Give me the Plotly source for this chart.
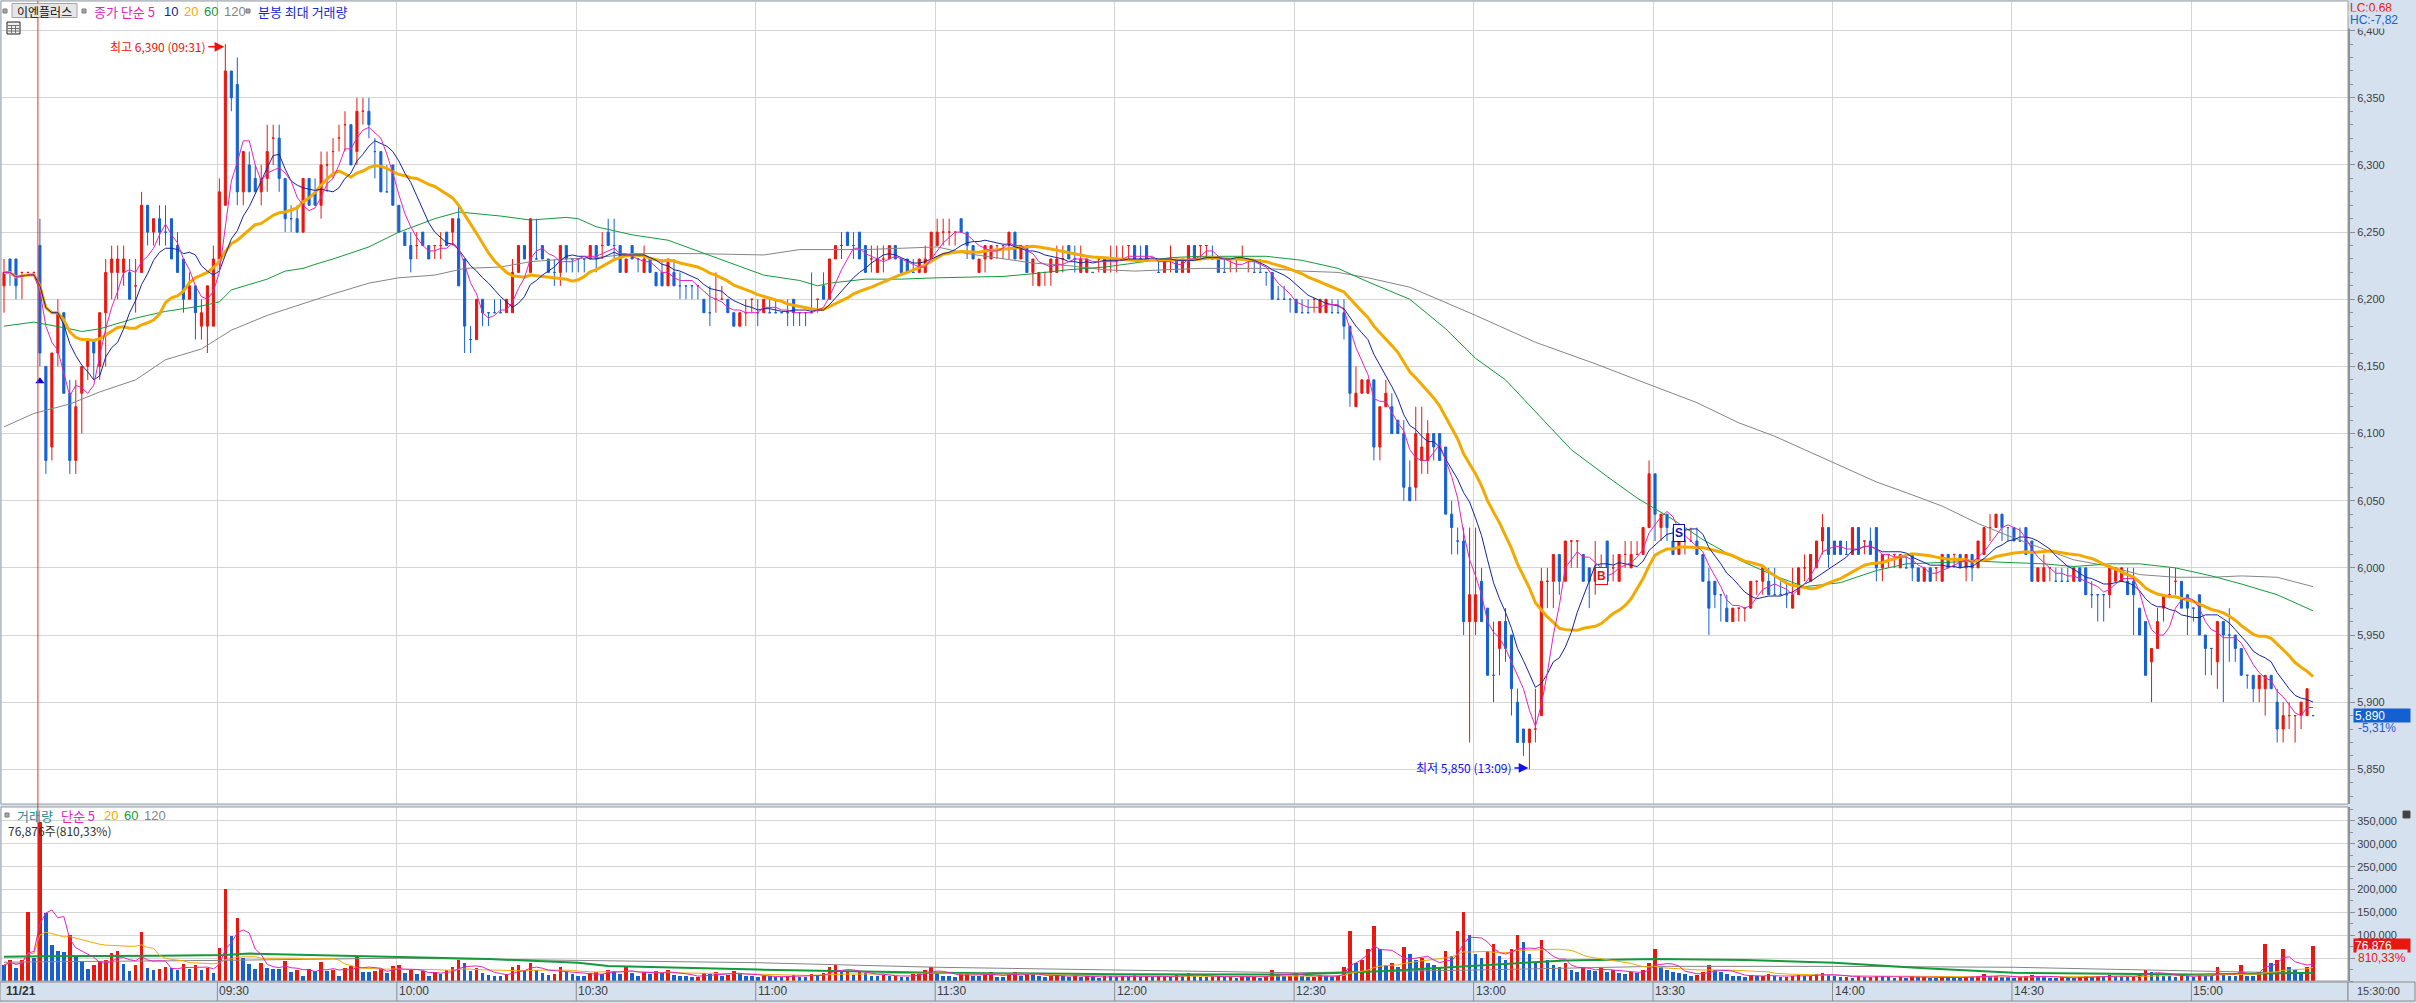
import plotly.graph_objects as go
import pandas as pd

# ---------------------------------------------------------------- data
prev_times = ["11/20 15:15", "11/20 15:16", "11/20 15:17", "11/20 15:18", "11/20 15:19", "11/20 15:30"]
session_times = ["11/21 %02d:%02d" % divmod(m, 60) for m in range(540, 920)] + ["11/21 15:30"]
times = prev_times + session_times

opens = [
    6210, 6230, 6230, 6220, 6220, 6220,
    6240, 6150, 6090, 6160, 6190, 6130, 6080, 6130, 6150, 6170,
    6150, 6190, 6220, 6220, 6220, 6220, 6210, 6220, 6270, 6250,
    6260, 6250, 6260, 6240, 6230, 6200, 6210, 6180, 6180, 6180,
    6230, 6270, 6370, 6360, 6280, 6300, 6290, 6280, 6290, 6320,
    6320, 6290, 6260, 6260, 6250, 6290, 6280, 6270, 6300, 6310,
    6320, 6330, 6330, 6310, 6340, 6340, 6310, 6310, 6280, 6300,
    6270, 6250, 6240, 6240, 6250, 6240, 6240, 6240, 6250, 6250,
    6260, 6230, 6170, 6170, 6200, 6190, 6190, 6190, 6190, 6190,
    6220, 6240, 6220, 6230, 6240, 6230, 6220, 6220, 6240, 6230,
    6230, 6230, 6230, 6240, 6240, 6250, 6240, 6240, 6220, 6240,
    6230, 6220, 6230, 6220, 6220, 6210, 6220, 6210, 6210, 6210,
    6210, 6200, 6190, 6200, 6200, 6200, 6190, 6180, 6190, 6200,
    6190, 6190, 6190, 6190, 6190, 6190, 6200, 6190, 6190, 6190,
    6200, 6210, 6200, 6230, 6240, 6250, 6240, 6250, 6240, 6230,
    6220, 6230, 6230, 6240, 6230, 6230, 6220, 6220, 6220, 6230,
    6240, 6250, 6250, 6250, 6260, 6250, 6240, 6220, 6230, 6230,
    6240, 6240, 6240, 6250, 6230, 6240, 6220, 6210, 6220, 6220,
    6220, 6230, 6240, 6230, 6220, 6220, 6220, 6230, 6220, 6230,
    6230, 6230, 6240, 6240, 6230, 6240, 6230, 6220, 6220, 6230,
    6230, 6220, 6220, 6240, 6240, 6240, 6230, 6230, 6220, 6230,
    6230, 6230, 6230, 6220, 6220, 6220, 6220, 6200, 6200, 6200,
    6200, 6190, 6190, 6200, 6190, 6190, 6190, 6190, 6190, 6180,
    6120, 6130, 6130, 6140, 6090, 6120, 6120, 6110, 6100, 6060,
    6060, 6080, 6080, 6100, 6100, 6090, 6040, 6020, 6020, 5960,
    5960, 5990, 5970, 5920, 5940, 5960, 5950, 5900, 5880, 5870,
    5880, 5890, 5990, 5990, 6010, 5990, 6020, 6020, 6010, 6000,
    5990, 6000, 6020, 6000, 5990, 6010, 6000, 6010, 6010, 6030,
    6070, 6030, 6040, 6020, 6010, 6020, 6020, 6020, 6010, 5990,
    5990, 5980, 5970, 5960, 5970, 5970, 5970, 5990, 5990, 5990,
    5980, 5980, 5980, 5970, 5980, 6000, 5990, 6000, 6020, 6030,
    6020, 6020, 6010, 6010, 6030, 6020, 6020, 6030, 6000, 6010,
    6010, 6000, 6000, 6010, 6000, 5990, 6000, 6000, 5990, 6010,
    6010, 6010, 6000, 6010, 6000, 6010, 6030, 6030, 6040, 6030,
    6030, 6020, 6030, 6020, 5990, 5990, 6000, 5990, 5990, 5990,
    5990, 6000, 6000, 5980, 5980, 5980, 5980, 5990, 5990, 5990,
    5990, 5970, 5960, 5930, 5940, 5970, 5980, 5990, 5990, 5980,
    5970, 5980, 5950, 5940, 5930, 5960, 5950, 5950, 5940, 5920,
    5920, 5910, 5910, 5920, 5900, 5880, 5890, 5890, 5890, 5890,
    5890,
]
highs = [
    6230, 6230, 6230, 6220, 6220, 6220,
    6260, 6150, 6160, 6200, 6190, 6140, 6140, 6150, 6170, 6170,
    6190, 6230, 6240, 6240, 6240, 6230, 6230, 6280, 6270, 6260,
    6270, 6270, 6260, 6250, 6230, 6220, 6210, 6200, 6210, 6240,
    6290, 6390, 6370, 6380, 6310, 6310, 6300, 6300, 6330, 6330,
    6330, 6290, 6270, 6270, 6290, 6290, 6290, 6310, 6310, 6320,
    6330, 6340, 6330, 6350, 6350, 6350, 6320, 6310, 6300, 6300,
    6270, 6250, 6250, 6250, 6250, 6240, 6240, 6250, 6250, 6260,
    6270, 6230, 6180, 6200, 6200, 6190, 6200, 6200, 6200, 6230,
    6240, 6240, 6260, 6260, 6240, 6230, 6230, 6240, 6240, 6230,
    6230, 6230, 6240, 6240, 6250, 6260, 6260, 6240, 6230, 6240,
    6230, 6240, 6230, 6220, 6230, 6230, 6230, 6220, 6210, 6210,
    6210, 6200, 6210, 6220, 6210, 6200, 6190, 6190, 6200, 6200,
    6200, 6200, 6200, 6200, 6190, 6200, 6200, 6190, 6190, 6220,
    6200, 6220, 6230, 6240, 6250, 6250, 6250, 6250, 6240, 6240,
    6240, 6240, 6240, 6240, 6230, 6230, 6230, 6230, 6240, 6250,
    6260, 6260, 6260, 6250, 6260, 6250, 6240, 6230, 6240, 6240,
    6240, 6240, 6250, 6250, 6240, 6240, 6230, 6220, 6220, 6230,
    6240, 6240, 6240, 6240, 6240, 6230, 6220, 6230, 6230, 6240,
    6240, 6240, 6240, 6240, 6240, 6240, 6230, 6230, 6230, 6240,
    6230, 6230, 6240, 6240, 6240, 6240, 6240, 6230, 6230, 6230,
    6230, 6240, 6230, 6230, 6230, 6220, 6220, 6210, 6210, 6200,
    6200, 6200, 6200, 6200, 6200, 6200, 6200, 6200, 6200, 6180,
    6150, 6140, 6140, 6140, 6120, 6140, 6130, 6110, 6110, 6080,
    6120, 6120, 6110, 6100, 6100, 6090, 6050, 6030, 6030, 6030,
    6030, 6000, 5970, 5960, 5960, 5970, 5950, 5910, 5880, 5880,
    5910, 6000, 6000, 6010, 6010, 6020, 6020, 6020, 6010, 6000,
    6020, 6010, 6020, 6010, 6010, 6020, 6020, 6020, 6030, 6080,
    6070, 6040, 6040, 6030, 6020, 6030, 6030, 6030, 6010, 6000,
    5990, 5980, 5980, 5970, 5970, 5970, 5990, 5990, 6000, 6000,
    6000, 5990, 5990, 6000, 6000, 6010, 6010, 6020, 6040, 6030,
    6020, 6020, 6020, 6030, 6030, 6020, 6030, 6030, 6010, 6010,
    6010, 6010, 6010, 6010, 6000, 6000, 6000, 6000, 6010, 6010,
    6010, 6010, 6010, 6010, 6020, 6030, 6040, 6040, 6040, 6030,
    6030, 6030, 6030, 6020, 6000, 6010, 6000, 6000, 6000, 6000,
    6000, 6000, 6000, 5990, 5980, 5980, 6000, 6000, 6000, 6000,
    6000, 5970, 5960, 5940, 5970, 5980, 6000, 6000, 5990, 5980,
    5970, 5980, 5950, 5940, 5960, 5960, 5970, 5950, 5940, 5920,
    5920, 5920, 5920, 5920, 5910, 5900, 5900, 5890, 5900, 5910,
    5890,
]
lows = [
    6190, 6210, 6200, 6200, 6220, 6220,
    6150, 6070, 6080, 6150, 6130, 6070, 6070, 6100, 6140, 6140,
    6140, 6150, 6200, 6200, 6210, 6200, 6190, 6220, 6240, 6240,
    6240, 6240, 6230, 6220, 6190, 6200, 6170, 6170, 6160, 6180,
    6220, 6270, 6340, 6270, 6270, 6280, 6280, 6270, 6280, 6300,
    6280, 6250, 6250, 6250, 6250, 6270, 6270, 6260, 6280, 6290,
    6310, 6310, 6300, 6300, 6330, 6320, 6290, 6280, 6280, 6270,
    6250, 6240, 6220, 6230, 6240, 6230, 6230, 6230, 6240, 6240,
    6210, 6160, 6160, 6170, 6180, 6180, 6190, 6190, 6190, 6190,
    6220, 6230, 6220, 6230, 6230, 6220, 6210, 6210, 6220, 6220,
    6220, 6220, 6230, 6220, 6230, 6240, 6230, 6220, 6220, 6230,
    6220, 6220, 6220, 6210, 6210, 6210, 6210, 6200, 6200, 6200,
    6200, 6190, 6180, 6190, 6200, 6190, 6180, 6180, 6180, 6190,
    6180, 6190, 6190, 6190, 6190, 6180, 6180, 6180, 6180, 6190,
    6190, 6200, 6200, 6230, 6230, 6240, 6230, 6230, 6220, 6220,
    6220, 6220, 6230, 6230, 6220, 6220, 6220, 6220, 6220, 6230,
    6240, 6240, 6240, 6240, 6250, 6230, 6230, 6220, 6220, 6230,
    6230, 6230, 6230, 6230, 6230, 6220, 6210, 6210, 6210, 6210,
    6220, 6220, 6230, 6220, 6220, 6220, 6220, 6220, 6220, 6220,
    6220, 6230, 6230, 6230, 6230, 6230, 6230, 6220, 6220, 6220,
    6220, 6220, 6220, 6230, 6230, 6230, 6230, 6220, 6220, 6220,
    6220, 6230, 6220, 6220, 6220, 6210, 6200, 6200, 6200, 6190,
    6190, 6190, 6190, 6190, 6190, 6190, 6190, 6190, 6170, 6120,
    6120, 6130, 6130, 6080, 6080, 6120, 6100, 6100, 6050, 6050,
    6050, 6070, 6070, 6080, 6080, 6040, 6010, 6010, 5950, 5870,
    5950, 5960, 5920, 5900, 5920, 5930, 5890, 5870, 5860, 5850,
    5870, 5890, 5970, 5970, 5980, 5990, 6000, 6000, 5990, 5970,
    5980, 5990, 5990, 5990, 5990, 6000, 6000, 6010, 6010, 6030,
    6020, 6020, 6020, 6010, 6010, 6010, 6020, 6010, 5990, 5950,
    5970, 5960, 5960, 5960, 5960, 5960, 5970, 5980, 5980, 5980,
    5980, 5980, 5970, 5970, 5980, 5990, 5990, 6000, 6010, 6000,
    6010, 6010, 6010, 6010, 6010, 6010, 6010, 5990, 5990, 6000,
    6000, 6000, 6000, 5990, 5990, 5990, 5990, 5990, 5990, 6000,
    6000, 6000, 5990, 5990, 6000, 6010, 6020, 6030, 6020, 6020,
    6020, 6020, 6010, 5990, 5990, 5990, 5990, 5990, 5990, 5990,
    5990, 5990, 5980, 5970, 5960, 5960, 5970, 5990, 5990, 5980,
    5950, 5950, 5920, 5900, 5940, 5960, 5980, 5980, 5970, 5950,
    5960, 5950, 5920, 5920, 5910, 5900, 5930, 5930, 5920, 5910,
    5900, 5900, 5890, 5910, 5870, 5870, 5880, 5870, 5880, 5890,
    5890,
]
closes = [
    6220, 6220, 6210, 6220, 6220, 6220,
    6160, 6080, 6160, 6190, 6130, 6080, 6120, 6150, 6170, 6160,
    6190, 6220, 6230, 6230, 6230, 6200, 6210, 6270, 6250, 6260,
    6250, 6250, 6230, 6220, 6200, 6210, 6190, 6190, 6210, 6230,
    6280, 6370, 6350, 6280, 6310, 6280, 6280, 6290, 6310, 6320,
    6290, 6260, 6260, 6250, 6290, 6270, 6270, 6300, 6300, 6310,
    6320, 6330, 6300, 6340, 6340, 6330, 6310, 6280, 6280, 6270,
    6250, 6240, 6230, 6240, 6240, 6230, 6240, 6240, 6240, 6260,
    6210, 6180, 6170, 6200, 6190, 6190, 6190, 6190, 6200, 6220,
    6240, 6230, 6260, 6230, 6230, 6220, 6220, 6240, 6230, 6230,
    6230, 6230, 6240, 6230, 6240, 6240, 6240, 6220, 6230, 6230,
    6230, 6230, 6220, 6210, 6210, 6230, 6210, 6210, 6210, 6210,
    6210, 6190, 6190, 6200, 6200, 6190, 6180, 6190, 6190, 6200,
    6190, 6200, 6190, 6190, 6190, 6190, 6190, 6190, 6190, 6190,
    6200, 6200, 6230, 6240, 6240, 6240, 6240, 6230, 6220, 6230,
    6230, 6230, 6240, 6230, 6220, 6220, 6220, 6230, 6230, 6250,
    6250, 6250, 6250, 6250, 6250, 6240, 6230, 6230, 6240, 6240,
    6240, 6240, 6250, 6230, 6240, 6220, 6230, 6220, 6220, 6230,
    6230, 6230, 6230, 6230, 6230, 6230, 6220, 6230, 6230, 6230,
    6230, 6230, 6240, 6230, 6230, 6230, 6230, 6220, 6230, 6230,
    6220, 6230, 6240, 6230, 6240, 6240, 6230, 6220, 6220, 6230,
    6230, 6230, 6230, 6220, 6220, 6220, 6200, 6200, 6200, 6200,
    6190, 6190, 6190, 6200, 6200, 6200, 6190, 6190, 6180, 6130,
    6130, 6140, 6140, 6090, 6120, 6130, 6100, 6100, 6060, 6050,
    6100, 6090, 6100, 6090, 6080, 6040, 6030, 6020, 5960, 5980,
    5980, 5960, 5920, 5920, 5960, 5940, 5910, 5870, 5870, 5880,
    5880, 5990, 5990, 6010, 5990, 6020, 6020, 6020, 5990, 5990,
    6000, 6000, 5990, 6000, 6010, 6010, 6010, 6010, 6030, 6070,
    6040, 6040, 6030, 6010, 6020, 6020, 6020, 6010, 5990, 5970,
    5980, 5980, 5960, 5970, 5970, 5970, 5990, 5990, 6000, 5980,
    5980, 5980, 5980, 5980, 6000, 6000, 6010, 6020, 6030, 6010,
    6010, 6010, 6010, 6030, 6010, 6020, 6010, 6000, 6010, 6010,
    6010, 6010, 6000, 6000, 5990, 6000, 5990, 6000, 6010, 6000,
    6010, 6000, 6010, 6000, 6020, 6030, 6030, 6040, 6030, 6030,
    6020, 6020, 6010, 5990, 6000, 6000, 6000, 5990, 5990, 5990,
    6000, 5990, 5980, 5980, 5980, 5980, 6000, 6000, 6000, 5980,
    5980, 5950, 5920, 5940, 5960, 5980, 5980, 5990, 5970, 5970,
    5970, 5950, 5940, 5940, 5960, 5950, 5950, 5940, 5920, 5920,
    5910, 5920, 5920, 5910, 5880, 5890, 5890, 5890, 5900, 5910,
    5890,
]
volumes = [
    35000, 46000, 29000, 46000, 151000, 50000,
    348000, 148000, 79000, 66000, 64000, 101000, 53000, 44000, 26000, 35000,
    44000, 47000, 61000, 66000, 37000, 22000, 35000, 107000, 29000, 24000,
    26000, 31000, 28000, 25000, 37000, 26000, 35000, 25000, 29000, 17500,
    72000, 201000, 98000, 138000, 50000, 37000, 26000, 39000, 28000, 27000,
    25500, 44000, 20000, 23000, 11000, 26000, 22000, 41500, 22000, 24000,
    11000, 28000, 33500, 52000, 20000, 19000, 22600, 26000, 17500, 33500,
    35000, 18000, 25000, 15000, 22000, 12000, 20000, 16000, 24000, 30000,
    45000, 40000, 22000, 28000, 18000, 14000, 12000, 10000, 15000, 30000,
    35000, 22000, 40000, 25000, 18000, 14000, 16000, 30000, 20000, 15000,
    12000, 10000, 18000, 20000, 15000, 25000, 22000, 16000, 30000, 18000,
    12000, 20000, 15000, 22000, 18000, 25000, 14000, 12000, 10000, 8000,
    9000, 18000, 15000, 20000, 10000, 14000, 22000, 18000, 12000, 10000,
    8000, 12000, 10000, 9000, 8000, 10000, 14000, 9000, 8000, 15000,
    12000, 18000, 30000, 35000, 20000, 22000, 14000, 20000, 18000, 12000,
    10000, 14000, 10000, 12000, 9000, 8000, 16000, 20000, 25000, 30000,
    18000, 12000, 10000, 8000, 15000, 18000, 12000, 10000, 14000, 20000,
    9000, 8000, 16000, 20000, 12000, 18000, 15000, 10000, 8000, 12000,
    14000, 10000, 9000, 12000, 8000, 10000, 8000, 6000, 12000, 10000,
    9000, 10000, 8000, 14000, 9000, 12000, 8000, 10000, 12000, 9000,
    14000, 12000, 18000, 10000, 9000, 8000, 10000, 12000, 8000, 9000,
    7000, 10000, 8000, 9000, 7000, 12000, 25000, 15000, 10000, 12000,
    18000, 10000, 8000, 9000, 14000, 12000, 8000, 10000, 30000, 110000,
    40000, 45000, 70000, 120000, 70000, 35000, 40000, 30000, 75000, 60000,
    45000, 50000, 40000, 35000, 30000, 65000, 55000, 110000, 150000, 100000,
    60000, 50000, 65000, 80000, 55000, 45000, 70000, 100000, 85000, 60000,
    40000, 90000, 45000, 35000, 30000, 40000, 25000, 20000, 30000, 25000,
    22000, 28000, 20000, 25000, 18000, 15000, 20000, 18000, 25000, 40000,
    70000, 30000, 25000, 20000, 18000, 15000, 12000, 14000, 20000, 35000,
    25000, 20000, 15000, 12000, 10000, 8000, 14000, 10000, 12000, 15000,
    10000, 8000, 9000, 12000, 14000, 10000, 12000, 15000, 18000, 14000,
    10000, 8000, 9000, 7000, 10000, 8000, 9000, 12000, 10000, 8000,
    7000, 9000, 6000, 10000, 8000, 9000, 7000, 6000, 10000, 8000,
    7000, 6000, 9000, 8000, 12000, 15000, 10000, 12000, 9000, 8000,
    7000, 8000, 12000, 14000, 9000, 8000, 7000, 6000, 8000, 7000,
    6000, 9000, 10000, 8000, 12000, 9000, 14000, 10000, 9000, 8000,
    12000, 18000, 25000, 20000, 15000, 12000, 10000, 9000, 14000, 10000,
    8000, 15000, 12000, 10000, 30000, 14000, 12000, 10000, 35000, 12000,
    10000, 20000, 80000, 40000, 45000, 70000, 30000, 25000, 20000, 30000,
    76876,
]

# moving averages 60 / 120 (they need earlier history)
ma60_times = ["11/20 15:15", "11/20 15:30", "11/21 09:05", "11/21 09:07", "11/21 09:10", "11/21 09:16",
              "11/21 09:21", "11/21 09:27", "11/21 09:30", "11/21 09:32", "11/21 09:35", "11/21 09:38",
              "11/21 09:41", "11/21 09:44", "11/21 09:46", "11/21 09:49", "11/21 09:55", "11/21 10:00",
              "11/21 10:06", "11/21 10:10", "11/21 10:17", "11/21 10:22", "11/21 10:28", "11/21 10:30",
              "11/21 10:33", "11/21 10:39", "11/21 10:45", "11/21 10:50", "11/21 10:56", "11/21 11:01",
              "11/21 11:07", "11/21 11:10", "11/21 11:12", "11/21 11:18", "11/21 11:24", "11/21 11:30",
              "11/21 11:41", "11/21 11:46", "11/21 11:52", "11/21 11:58", "11/21 12:03", "11/21 12:09",
              "11/21 12:14", "11/21 12:20", "11/21 12:25", "11/21 12:31", "11/21 12:37", "11/21 12:42",
              "11/21 12:49", "11/21 12:55", "11/21 13:00", "11/21 13:05", "11/21 13:11", "11/21 13:16",
              "11/21 13:22", "11/21 13:27", "11/21 13:30", "11/21 13:33", "11/21 13:38", "11/21 13:44",
              "11/21 13:50", "11/21 13:55", "11/21 14:01", "11/21 14:07", "11/21 14:12", "11/21 14:18",
              "11/21 14:24", "11/21 14:29", "11/21 14:35", "11/21 14:40", "11/21 14:46", "11/21 14:51",
              "11/21 14:57", "11/21 15:03", "11/21 15:08", "11/21 15:14", "11/21 15:30"]
ma60_values = [6180, 6183, 6178, 6176, 6178, 6186,
               6191, 6195, 6198, 6207, 6211, 6215,
               6221, 6223, 6226, 6230, 6239, 6250,
               6260, 6265, 6262, 6259, 6261, 6260,
               6254, 6248, 6244, 6236, 6226, 6218,
               6214, 6210, 6212, 6215, 6215, 6216,
               6217, 6219, 6222, 6224, 6227, 6231,
               6232, 6232, 6232, 6229, 6223, 6213,
               6200, 6178, 6156, 6140, 6112, 6088,
               6068, 6052, 6044, 6036, 6021, 6006,
               5994, 5986, 5989, 5998, 6003, 6004,
               6005, 6004, 6003, 6001, 6003, 6003,
               6000, 5994, 5988, 5980, 5968]
ma120_times = ["11/20 15:15", "11/20 15:30", "11/21 09:05", "11/21 09:10", "11/21 09:16", "11/21 09:21",
               "11/21 09:27", "11/21 09:32", "11/21 09:38", "11/21 09:44", "11/21 09:49", "11/21 09:55",
               "11/21 10:00", "11/21 10:06", "11/21 10:11", "11/21 10:17", "11/21 10:22", "11/21 10:28",
               "11/21 10:33", "11/21 10:39", "11/21 10:50", "11/21 11:01", "11/21 11:07", "11/21 11:18",
               "11/21 11:30", "11/21 11:35", "11/21 11:41", "11/21 11:46", "11/21 11:52", "11/21 11:58",
               "11/21 12:03", "11/21 12:14", "11/21 12:25", "11/21 12:31", "11/21 12:37", "11/21 12:42",
               "11/21 12:49", "11/21 13:00", "11/21 13:10", "11/21 13:20", "11/21 13:27", "11/21 13:37",
               "11/21 13:44", "11/21 13:50", "11/21 13:55", "11/21 14:01", "11/21 14:07", "11/21 14:12",
               "11/21 14:18", "11/21 14:24", "11/21 14:29", "11/21 14:35", "11/21 14:40", "11/21 14:46",
               "11/21 14:51", "11/21 14:57", "11/21 15:03", "11/21 15:08", "11/21 15:14", "11/21 15:30"]
ma120_values = [6105, 6115, 6122, 6131, 6140, 6155,
                6163, 6177, 6188, 6197, 6204, 6212,
                6216, 6218, 6223, 6224, 6228, 6230,
                6231, 6234, 6234, 6233, 6237, 6237,
                6239, 6234, 6230, 6227, 6225, 6222,
                6221, 6223, 6223, 6221, 6220, 6216,
                6209, 6188, 6168, 6152, 6140, 6123,
                6108, 6098, 6088, 6076, 6064, 6056,
                6046, 6033, 6024, 6014, 6006, 6001,
                5995, 5993, 5993, 5994, 5993, 5986]

# volume moving averages 60 / 120
vma60_times = ["11/20 15:15", "11/21 09:00", "11/21 09:20", "11/21 09:31", "11/21 09:35", "11/21 09:45",
               "11/21 10:00", "11/21 10:15", "11/21 10:30", "11/21 10:35", "11/21 11:00", "11/21 11:30",
               "11/21 12:00", "11/21 12:30", "11/21 12:45", "11/21 13:00", "11/21 13:15", "11/21 13:30",
               "11/21 13:45", "11/21 14:00", "11/21 14:15", "11/21 14:30", "11/21 15:00", "11/21 15:30"]
vma60_values = [53000, 54000, 55000, 57000, 60000, 57000,
                54000, 48000, 40000, 33000, 25000, 18000,
                15000, 14000, 22000, 33000, 45000, 48000,
                46000, 40000, 28000, 18000, 14000, 18000]
vma120_times = ["11/20 15:15", "11/21 09:00", "11/21 09:30", "11/21 10:00", "11/21 10:30", "11/21 11:00",
                "11/21 11:30", "11/21 12:00", "11/21 12:30", "11/21 13:00", "11/21 13:30", "11/21 14:00",
                "11/21 14:30", "11/21 15:00", "11/21 15:30"]
vma120_values = [41000, 42000, 45000, 50000, 45000, 40000,
                 30000, 24000, 18000, 24000, 32000, 32000,
                 30000, 22000, 17000]

tick_labels = ["09:30", "10:00", "10:30", "11:00", "11:30", "12:00",
               "12:30", "13:00", "13:30", "14:00", "14:30", "15:00"]
day_label = "11/21"
stock_name = "이엔플러스"
high_text = "최고 6,390 (09:31)"
high_time = "11/21 09:31"
low_text = "최저 5,850 (13:09)"
low_time = "11/21 13:09"
buy_time, buy_price = "11/21 13:21", 5994
sell_time, sell_price = "11/21 13:34", 6026
arrow_time, arrow_price = "11/21 09:00", 6139
last_price_text, last_pct_text = "5,890", "-5,31%"
last_vol_text, last_vol_pct_text = "76,876", "810,33%"
lc_text, hc_text = "LC:0,68", "HC:-7,82"

# ---------------------------------------------------------------- geometry / style
W, H = 2416, 1003
ML, MR, MT, MB = 1, 68, 0, 22
PW, PH = W - ML - MR, H - MT - MB
pos = {t: i for i, t in enumerate(times)}
x = list(range(len(times)))
day0 = pos["11/21 09:00"]
PX_PER = 5.982
X0_PX = 39.9 - day0 * PX_PER          # pixel of position 0


def xp(px):
    return (px - ML) / PW


def yp(py):
    return 1 - (py - MT) / PH


def pix_to_pos(px):
    return (px - X0_PX) / PX_PER


xrange_ = [pix_to_pos(ML), pix_to_pos(ML + PW)]
GRID_OFF = 2 / PX_PER

RED = "#E8170F"
BLUE = "#1660D2"
C_MA5 = "#E024BE"
C_MA10 = "#13249C"
C_MA20 = "#F2A900"
C_MA60 = "#139A3A"
C_MA120 = "#858585"
GRID = "#D5D5D5"
PANEL = "#D6E1EF"
AXIS = "#8E8E8E"
TXT = "#404040"
FONT = "Liberation Sans, Noto Sans CJK KR, sans-serif"
KFONT = "Noto Sans CJK KR, Liberation Sans, sans-serif"

price_top = 6400 + (30.7 - 1) / 1.3429
price_bot = 6400 - (804 - 30.7) / 1.3429
vol_top = (981 - 807) / 22.87 * 50000

price_dom = [yp(804), yp(1)]
vol_dom = [yp(981), yp(807)]

s_close = pd.Series(closes, dtype=float)
s_vol = pd.Series(volumes, dtype=float)
ma = {n: s_close.rolling(n, min_periods=1).mean() for n in (5, 10, 20)}
vma = {n: s_vol.rolling(n, min_periods=1).mean() for n in (5, 20)}

vol_colors = []
for i, v in enumerate(volumes):
    up = i > 0 and v > volumes[i - 1]
    vol_colors.append(RED if up else BLUE)

fig = go.Figure()

fig.add_trace(go.Candlestick(
    x=x, open=opens, high=highs, low=lows, close=closes,
    increasing=dict(line=dict(color=RED, width=1), fillcolor=RED),
    decreasing=dict(line=dict(color=BLUE, width=1), fillcolor=BLUE),
    whiskerwidth=0, hoverinfo="skip", xaxis="x", yaxis="y", showlegend=False))

fig.add_trace(go.Scatter(x=[pos[t] for t in ma120_times], y=ma120_values, mode="lines",
                         line=dict(color=C_MA120, width=1), hoverinfo="skip"))
fig.add_trace(go.Scatter(x=[pos[t] for t in ma60_times], y=ma60_values, mode="lines",
                         line=dict(color=C_MA60, width=1), hoverinfo="skip"))
fig.add_trace(go.Scatter(x=x, y=ma[20], mode="lines", line=dict(color=C_MA20, width=3), hoverinfo="skip"))
fig.add_trace(go.Scatter(x=x, y=ma[10], mode="lines", line=dict(color=C_MA10, width=1), hoverinfo="skip"))
fig.add_trace(go.Scatter(x=x, y=ma[5], mode="lines", line=dict(color=C_MA5, width=1), hoverinfo="skip"))

fig.add_trace(go.Scatter(x=[pos[arrow_time]], y=[arrow_price], mode="markers",
                         marker=dict(symbol="triangle-up", size=8, color="#0000F0", line=dict(width=0)),
                         hoverinfo="skip"))

# volume
fig.add_trace(go.Bar(x=x, y=volumes, marker=dict(color=vol_colors, line=dict(width=0)), width=0.6,
                     xaxis="x2", yaxis="y2", hoverinfo="skip"))
fig.add_trace(go.Scatter(x=[pos[t] for t in vma120_times], y=vma120_values, mode="lines",
                         line=dict(color=C_MA120, width=1), xaxis="x2", yaxis="y2", hoverinfo="skip"))
fig.add_trace(go.Scatter(x=[pos[t] for t in vma60_times], y=vma60_values, mode="lines",
                         line=dict(color=C_MA60, width=2), xaxis="x2", yaxis="y2", hoverinfo="skip"))
fig.add_trace(go.Scatter(x=x, y=vma[20], mode="lines", line=dict(color=C_MA20, width=1),
                         xaxis="x2", yaxis="y2", hoverinfo="skip"))
fig.add_trace(go.Scatter(x=x, y=vma[5], mode="lines", line=dict(color=C_MA5, width=1),
                         xaxis="x2", yaxis="y2", hoverinfo="skip"))

grid_vals = [pos["11/21 " + t] - GRID_OFF for t in tick_labels]
day_sep = day0 - GRID_OFF

xcommon = dict(range=xrange_, tickmode="array", tickvals=grid_vals, showticklabels=False, ticks="",
               showgrid=True, gridcolor=GRID, gridwidth=1, zeroline=False, showline=False,
               fixedrange=True, automargin=False)
fig.update_layout(
    xaxis=dict(domain=[0, 1], anchor="y", rangeslider=dict(visible=False), **xcommon),
    xaxis2=dict(domain=[0, 1], anchor="y2", **xcommon),
)

price_ticks = list(range(5850, 6401, 50))
vol_ticks = list(range(50000, 350001, 50000))
yfont = dict(family=FONT, size=11, color=TXT)
fig.update_layout(
    yaxis=dict(domain=price_dom, range=[price_bot, price_top], side="right", anchor="x",
               tickmode="array", tickvals=price_ticks, ticktext=[f"{v:,}" for v in price_ticks],
               ticks="outside", ticklen=5, tickcolor=AXIS, showline=True, linecolor=AXIS, linewidth=2,
               showgrid=True, gridcolor=GRID, zeroline=False, tickfont=yfont,
               minor=dict(tickmode="linear", tick0=0, dtick=10, ticks="outside", ticklen=3, tickcolor=AXIS,
                          showgrid=False),
               automargin=False, fixedrange=True),
    yaxis2=dict(domain=vol_dom, range=[0, vol_top], side="right", anchor="x2",
                tickmode="array", tickvals=vol_ticks,
                ticktext=["" if v < 100000 else f"{v:,}" for v in vol_ticks],
                ticks="outside", ticklen=5, tickcolor=AXIS, showline=True, linecolor=AXIS, linewidth=2,
                showgrid=True, gridcolor=GRID, zeroline=False, tickfont=yfont,
                minor=dict(tickmode="linear", tick0=0, dtick=25000, ticks="outside", ticklen=3,
                           tickcolor=AXIS, showgrid=False),
                automargin=False, fixedrange=True),
)

shapes = []
for dom in (price_dom, vol_dom):
    shapes.append(dict(type="rect", xref="paper", yref="paper", x0=0, x1=1, y0=dom[0], y1=dom[1],
                       line=dict(color="#9C9C9C", width=1), fillcolor="rgba(0,0,0,0)", layer="above"))
shapes.append(dict(type="line", xref="x", yref="paper", x0=day_sep, x1=day_sep, y0=vol_dom[0], y1=price_dom[1],
                   line=dict(color="#E03232", width=1), layer="above"))
shapes.append(dict(type="rect", xref="paper", yref="paper", x0=xp(0), x1=xp(ML + PW), y0=yp(1001), y1=yp(982),
                   line=dict(color="#8C8C8C", width=1), fillcolor=PANEL, layer="below"))
for gv in grid_vals:
    shapes.append(dict(type="line", xref="x", yref="paper", x0=gv, x1=gv, y0=yp(1001), y1=yp(982),
                       line=dict(color="#8C8C8C", width=1)))
shapes.append(dict(type="rect", xref="paper", yref="paper", x0=xp(ML + PW), x1=xp(W - 1), y0=yp(1001), y1=yp(982),
                   line=dict(color="#8C8C8C", width=1), fillcolor=PANEL))
for sx, sy in ((5, 11), (84, 11), (248, 11), (7, 815)):
    shapes.append(dict(type="rect", xref="paper", yref="paper", x0=xp(sx - 2), x1=xp(sx + 2),
                       y0=yp(sy + 2), y1=yp(sy - 2), line=dict(color="#7A7A7A", width=1), fillcolor="#A8A8A8"))
shapes.append(dict(type="rect", xref="paper", yref="paper", x0=xp(12), x1=xp(77), y0=yp(17.5), y1=yp(3.5),
                   line=dict(color="#A5A5A5", width=1), fillcolor="#E6E6E6"))
shapes.append(dict(type="rect", xref="paper", yref="paper", x0=xp(7), x1=xp(20), y0=yp(34), y1=yp(22),
                   line=dict(color="#202020", width=1), fillcolor="#F0F0F0"))
for gx in (11.5, 15.5):
    shapes.append(dict(type="line", xref="paper", yref="paper", x0=xp(gx), x1=xp(gx), y0=yp(33), y1=yp(25),
                       line=dict(color="#707070", width=1)))
for gy in (25.5, 28.5, 31):
    shapes.append(dict(type="line", xref="paper", yref="paper", x0=xp(8), x1=xp(19), y0=yp(gy), y1=yp(gy),
                       line=dict(color="#707070", width=1)))
shapes.append(dict(type="rect", xref="paper", yref="paper", x0=xp(2403), x1=xp(2410), y0=yp(818), y1=yp(811),
                   line=dict(color="#505050", width=1), fillcolor="#404040"))
fig.update_layout(shapes=shapes)

ann = []


def txt(text, px, py, color, size=12, family=FONT, xanchor="left", **kw):
    ann.append(dict(text=text, x=xp(px), y=yp(py), xref="paper", yref="paper", showarrow=False,
                    xanchor=xanchor, yanchor="middle", font=dict(family=family, size=size, color=color), **kw))


txt(stock_name, 44.5, 11, "#111111", size=12, family=KFONT, xanchor="center")
txt("종가 단순 5", 92, 11, C_MA5, size=13, family=KFONT)
txt("10", 162, 11, C_MA10, size=13)
txt("20", 182, 11, C_MA20, size=13)
txt("60", 202, 11, C_MA60, size=13)
txt("120", 222, 11, C_MA120, size=13)
txt("분봉 최대 거래량", 256, 11, "#1428D0", size=13, family=KFONT)
txt("거래량", 15, 815, "#2E8C8C", size=13, family=KFONT)
txt("단순 5", 59, 815, C_MA5, size=13, family=KFONT)
txt("20", 102, 815, C_MA20, size=13)
txt("60", 122, 815, C_MA60, size=13)
txt("120", 142, 815, C_MA120, size=13)
txt(f"{volumes[-1]:,}주(810,33%)", 6, 830, "#333333", size=12, family=KFONT)

for t, gv in zip(tick_labels, grid_vals):
    ann.append(dict(text=t, x=gv, y=yp(991.5), xref="x", yref="paper", showarrow=False, xanchor="left",
                    yanchor="middle", xshift=0, font=dict(family=FONT, size=12, color=TXT)))
ann.append(dict(text="<b>" + day_label + "</b>", x=day_sep, y=yp(991), xref="x", yref="paper", showarrow=False,
                xanchor="right", yanchor="middle", xshift=0, font=dict(family=FONT, size=12, color="#333333")))

txt(lc_text, 2348, 8, "#E8170F", size=12, bgcolor=PANEL)
txt(hc_text, 2348, 20, "#1660D2", size=12, bgcolor=PANEL)
ann.append(dict(text=last_price_text, x=xp(2353), y=yp(715.5), xref="paper", yref="paper", showarrow=False,
                xanchor="left", yanchor="middle", align="left", width=54, height=11, bgcolor="#1560D0",
                borderpad=1, font=dict(family=FONT, size=12, color="white")))
txt(last_pct_text, 2356, 728, "#1660D2", size=12)
ann.append(dict(text=last_vol_text, x=xp(2353), y=yp(945.5), xref="paper", yref="paper", showarrow=False,
                xanchor="left", yanchor="middle", align="left", width=54, height=11, bgcolor="#E8170F",
                borderpad=1, font=dict(family=FONT, size=12, color="white")))
txt(last_vol_pct_text, 2356, 958, "#E8170F", size=12, bgcolor=PANEL)
txt("15:30:00", 2355, 991.5, TXT, size=11)

ann.append(dict(text=high_text, x=pos[high_time], y=6388, xref="x", yref="y", showarrow=True,
                ax=-17, ay=0, xanchor="right", arrowhead=2, arrowsize=1.3, arrowwidth=1.5,
                arrowcolor="#F01010", standoff=1, font=dict(family=KFONT, size=12, color="#F01010")))
ann.append(dict(text=low_text, x=pos[low_time], y=5851, xref="x", yref="y", showarrow=True,
                ax=-15, ay=0, xanchor="right", arrowhead=2, arrowsize=1.3, arrowwidth=1.5,
                arrowcolor="#1010F0", standoff=1, font=dict(family=KFONT, size=12, color="#1010F0")))
ann.append(dict(text="<b>B</b>", x=pos[buy_time], y=buy_price, xref="x", yref="y", showarrow=False,
                bordercolor="#F01010", borderwidth=1, borderpad=1, bgcolor="white",
                font=dict(family=FONT, size=12, color="#F01010")))
ann.append(dict(text="<b>S</b>", x=pos[sell_time], y=sell_price, xref="x", yref="y", showarrow=False,
                bordercolor="#1010C0", borderwidth=1, borderpad=1, bgcolor="white",
                font=dict(family=FONT, size=12, color="#1010C0")))

fig.update_layout(
    annotations=ann,
    width=W, height=H,
    margin=dict(l=ML, r=MR, t=MT, b=MB, autoexpand=False),
    paper_bgcolor=PANEL, plot_bgcolor="white",
    showlegend=False, template="none", boxgap=0.5, bargap=0,
    font=dict(family=FONT, size=12, color=TXT),
)

fig.write_html("out.html", config={"displayModeBar": False},
               post_script="document.body.style.margin='0px';document.body.style.overflow='hidden';")
